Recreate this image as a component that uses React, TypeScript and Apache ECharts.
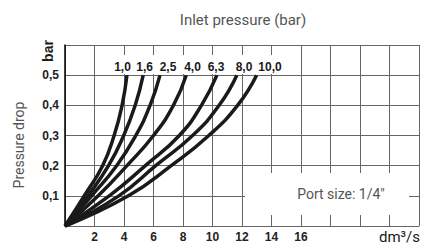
import React, { useEffect, useRef } from "react";
import * as echarts from "echarts";

const pressureDrops = [0, 0.1, 0.2, 0.3, 0.4, 0.5];
const inletLabels = ["1,0", "1,6", "2,5", "4,0", "6,3", "8,0", "10,0"];
const flow_1_0 = [0, 1.3, 2.55, 3.33, 3.87, 4.2];
const flow_1_6 = [0, 1.55, 2.95, 3.98, 4.76, 5.3];
const flow_2_5 = [0, 1.8, 3.5, 4.8, 5.77, 6.44];
const flow_4_0 = [0, 2.25, 4.2, 6.0, 7.35, 8.22];
const flow_6_3 = [0, 3.0, 5.45, 7.75, 9.25, 10.3];
const flow_8_0 = [0, 3.65, 6.15, 8.65, 10.45, 11.65];
const flow_10_0 = [0, 4.3, 7.2, 9.75, 11.7, 12.99];
const flows = [flow_1_0, flow_1_6, flow_2_5, flow_4_0, flow_6_3, flow_8_0, flow_10_0];
const xTickLabels = [2, 4, 6, 8, 10, 12, 14, 16];
const labelX = [122.5, 144.7, 168, 192.5, 216, 244, 270];

export default function App() {
  const ref = useRef<HTMLDivElement>(null);
  useEffect(() => {
    if (!ref.current) return;
    const chart = echarts.init(ref.current, null, { renderer: "svg" });
    const sansB = "Liberation Sans";
    const light = "Roboto";
    const series = flows.map((f, i) => ({
      type: "line",
      name: inletLabels[i],
      data: f.map((x, j) => [x, pressureDrops[j]]),
      smooth: 0.5,
      symbol: "none",
      lineStyle: { color: "#1a1a1a", width: 3.5 },
      z: 5,
    }));
    const txt = (text: string, x: number, y: number, font: string, fill: string, align = "center", rotation = 0) => ({
      type: "text",
      z: 3,
      x,
      y,
      rotation,
      style: {
        text,
        font,
        fill,
        align,
        verticalAlign: "middle",
        textAlign: align,
        textVerticalAlign: "middle",
      },
    });
    chart.setOption({
      animation: false,
      grid: { left: 65, top: 45, right: 0, bottom: 20, containLabel: false },
      xAxis: {
        type: "value",
        min: 0,
        max: 24,
        interval: 2,
        axisLine: { show: true, lineStyle: { color: "#666", width: 1 } },
        axisTick: { show: false },
        splitLine: { show: true, lineStyle: { color: "#666", width: 1 } },
        axisLabel: {
          margin: 5,
          fontFamily: sansB,
          fontWeight: "bold",
          fontSize: 12,
          color: "#222",
          formatter: (v: number) => (xTickLabels.indexOf(v) >= 0 ? String(v) : ""),
        },
      },
      yAxis: {
        type: "value",
        min: 0,
        max: 0.6,
        interval: 0.1,
        axisLine: { show: true, lineStyle: { color: "#000", width: 1.5 } },
        axisTick: { show: false },
        splitLine: { show: true, lineStyle: { color: "#666", width: 1 } },
        axisLabel: {
          margin: 6,
          fontFamily: sansB,
          fontWeight: "bold",
          fontSize: 12,
          color: "#222",
          formatter: (v: number) =>
            v < 0.05 || v > 0.55 ? "" : v.toFixed(1).replace(".", ","),
        },
      },
      graphic: [
        { type: "rect", z: 1, shape: { x: 104, y: 55, width: 186, height: 19 }, style: { fill: "#fff" } },
        { type: "rect", z: 1, shape: { x: 245, y: 173, width: 164, height: 42 }, style: { fill: "#fff" } },
        ...inletLabels.map((t, i) => txt(t, labelX[i], 67, `bold 12px "${sansB}"`, "#1a1a1a")),
        txt('Port size: 1/4"', 341, 194, `14px "${light}"`, "#555"),
        txt("Inlet pressure (bar)", 243, 20, `15px "${light}"`, "#555"),
        txt("Pressure drop", 19, 145, `14px "${light}"`, "#555", "center", Math.PI / 2),
        txt("bar", 48, 51, `bold 14px "${sansB}"`, "#1a1a1a", "center", Math.PI / 2),
        txt("dm³/s", 420, 237, `15px "${light}"`, "#1a1a1a", "right"),
      ],
      series,
    });
    return () => chart.dispose();
  }, []);
  return (
    <div
      ref={ref}
      style={{ position: "fixed", left: 0, top: 0, width: 422, height: 246, background: "#fff" }}
    />
  );
}
